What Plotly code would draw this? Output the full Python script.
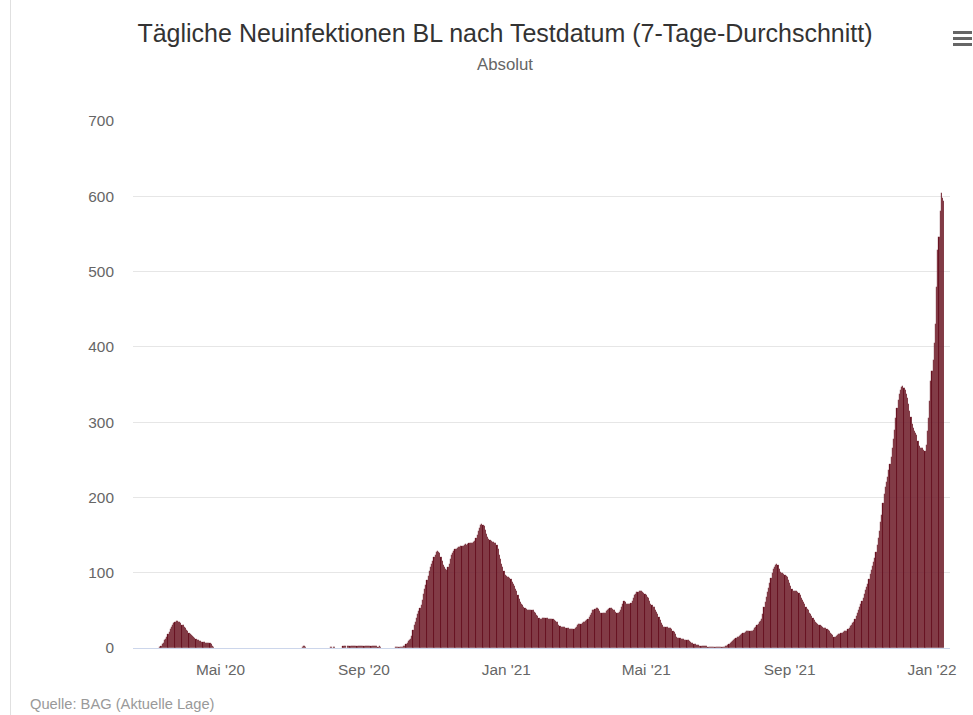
import pandas as pd
import plotly.graph_objects as go

# ---- data: 7-day average of daily new infections, Basel-Landschaft ----
feb20 = [0, 0, 0, 0, 0, 0]  # from 24 Feb 2020
mar20 = [0, 0, 0, 0, 0, 0, 0, 0.3, 0.6, 1, 3, 5, 7, 10, 12, 15, 18, 21, 25, 28,
         31, 33, 35, 36, 36, 35, 34, 33, 31, 30, 28]
apr20 = [26, 24, 22, 20, 19, 17, 16, 14, 13, 12, 11, 10, 9, 9, 8, 8, 7.5, 7, 7, 6.5,
         6, 6, 5, 2, 1, 0, 0, 0, 0, 0]
may20 = [0] * 31
jun20 = [0] * 30
jul20 = [0, 0, 0, 0, 0, 0, 0, 0, 0, 1.5, 2, 2, 1.5, 0, 0, 0, 0, 0, 0, 0,
         0, 0, 0, 0, 0, 0, 0, 0, 0, 0, 0]
aug20 = [0, 0, 1.5, 1.5, 0, 1.5, 1.5, 0, 0, 0, 0, 0, 0, 2, 2.5, 2, 0, 2, 2.5, 3,
         2.5, 2, 2.5, 3, 2.5, 2, 2, 2.5, 3, 2.5, 2]
sep20 = [2.5, 3, 2.5, 2, 2, 2.5, 2, 2.5, 2, 2, 2.5, 2, 1.5, 2, 1.5, 0, 0, 0, 0, 0,
         0, 0, 0, 0, 0, 0, 0, 1.5, 1.5, 1]
oct20 = [1, 1.5, 1.5, 1, 2, 3, 5, 7, 9, 11, 12, 16, 24, 30, 35, 40, 45, 49, 53, 57,
         64, 72, 78, 84, 90, 96, 102, 107, 111, 116, 121]
nov20 = [124, 127, 129, 128, 126, 121, 115, 110, 107, 105, 104, 107, 112, 118, 123,
         126, 129, 131, 132, 133, 134, 134, 135, 135, 136, 137, 138, 137, 138, 139]
dec20 = [139, 140, 140, 141, 142, 146, 150, 155, 160, 164, 165, 164, 162, 157, 152,
         148, 145, 143, 142, 141, 141, 140, 139, 137, 131, 124, 118, 112, 107, 102, 97]
jan21 = [95, 94, 94, 93, 91, 88, 85, 82, 79, 76, 71, 65, 61, 59, 57, 55, 53, 52, 51, 50,
         50, 51, 51, 50, 48, 46, 44, 42, 40, 39, 39]
feb21 = [40, 40, 40, 40, 40, 39, 39, 39, 38, 38, 37, 36, 35, 34, 31, 29, 28, 28, 28, 28,
         27, 26, 26, 25, 25, 25, 25, 25]
mar21 = [26, 28, 30, 32, 32, 32, 33, 34, 35, 36, 37, 39, 41, 44, 47, 50, 51, 52, 53, 53,
         52, 49, 46, 46, 46, 46, 47, 49, 51, 52, 53]
apr21 = [53, 52, 51, 50, 48, 47, 46, 48, 51, 54, 58, 62, 61, 59, 58, 58, 59, 60, 63, 66,
         70, 72, 74, 75, 76, 76, 76, 75, 73, 72]
may21 = [70, 68, 66, 62, 59, 57, 55, 54, 51, 48, 45, 41, 37, 33, 30, 28, 28, 28, 28, 27,
         27, 26, 25, 23, 21, 18, 15, 13, 13, 13, 12]
jun21 = [12, 12, 11, 11, 10, 10, 9, 8, 7, 6, 5.5, 5, 4.5, 4, 3.5, 3, 2.5, 2, 2, 2,
         2, 2, 1.8, 1.8, 1.8, 1.8, 1.8, 1.5, 1.2, 1]
jul21 = [1, 1, 1, 1, 1, 1.2, 1.5, 2, 3, 4, 5, 6.5, 7.5, 9, 10.5, 12, 13, 14, 15, 16,
         17.5, 19, 20, 20.5, 21, 22, 22.5, 23, 23, 23, 23]
aug21 = [24, 26, 28, 30, 32, 34, 36, 39, 45, 54, 61, 68, 74, 80, 86, 93, 100, 105, 108, 110,
         111, 110, 105, 101, 99, 99, 98, 97, 96, 94, 90]
sep21 = [86, 82, 78, 76, 76, 76, 76, 75, 73, 70, 67, 64, 61, 58, 55, 52, 50, 47, 45, 43,
         40, 37, 35, 33, 32, 31, 30, 29, 28, 27]
oct21 = [27, 26, 25, 24, 22, 20, 19, 17, 15, 15, 16, 17, 18, 19, 20, 20, 21, 22, 22, 23,
         25, 27, 29, 31, 33, 35, 38, 42, 46, 50, 54]
nov21 = [58, 62, 66, 72, 77, 81, 85, 91, 98, 104, 109, 114, 120, 128, 137, 146, 156, 167,
         177, 192, 205, 214, 221, 227, 236, 245, 254, 265, 277, 290]
dec21 = [305, 319, 330, 338, 343, 347, 348, 346, 343, 338, 332, 324, 315, 307, 298, 292,
         288, 285, 283, 275, 268, 266, 266, 265, 263, 262, 270, 288, 305, 328, 355]
jan22 = [368, 382, 405, 430, 480, 528, 546, 580, 604, 598, 594]

month_series = [
    ("2020-02-24", feb20), ("2020-03-01", mar20), ("2020-04-01", apr20),
    ("2020-05-01", may20), ("2020-06-01", jun20), ("2020-07-01", jul20),
    ("2020-08-01", aug20), ("2020-09-01", sep20), ("2020-10-01", oct20),
    ("2020-11-01", nov20), ("2020-12-01", dec20), ("2021-01-01", jan21),
    ("2021-02-01", feb21), ("2021-03-01", mar21), ("2021-04-01", apr21),
    ("2021-05-01", may21), ("2021-06-01", jun21), ("2021-07-01", jul21),
    ("2021-08-01", aug21), ("2021-09-01", sep21), ("2021-10-01", oct21),
    ("2021-11-01", nov21), ("2021-12-01", dec21), ("2022-01-01", jan22),
]

tick_dates = ["2020-05-01", "2020-09-01", "2021-01-01", "2021-05-01", "2021-09-01", "2022-01-01"]
tick_text = ["Mai '20", "Sep '20", "Jan '21", "Mai '21", "Sep '21", "Jan '22"]
y_ticks = [0, 100, 200, 300, 400, 500, 600, 700]

title_text = "Tägliche Neuinfektionen BL nach Testdatum (7-Tage-Durchschnitt)"
subtitle_text = "Absolut"
source_text = "Quelle: BAG (Aktuelle Lage)"

dates, values = [], []
for start, vals in month_series:
    dates += list(pd.date_range(start, periods=len(vals), freq="D"))
    values += vals

# ---- layout helpers (pixel -> paper) ----
W, H = 973, 715
L, R, T, B = 133, 950, 121, 648
def px(x):
    return (x - L) / (R - L)
def py(y):
    return (B - y) / (B - T)

FONT = "Liberation Sans, Arial, Helvetica, sans-serif"

fig = go.Figure(go.Bar(
    x=dates, y=values,
    marker=dict(color="#66101f", line=dict(color="rgba(255,255,255,0.18)", width=0.3)),
    hovertemplate="%{x|%d.%m.%Y}: %{y}<extra></extra>",
))

fig.update_layout(
    width=W, height=H,
    margin=dict(l=L, r=W - R, t=T, b=H - B, pad=0),
    paper_bgcolor="white", plot_bgcolor="white",
    font=dict(family=FONT, color="#666666"),
    bargap=0,
    showlegend=False,
    title=dict(text=title_text, x=505 / W, xref="container", xanchor="center",
               y=1 - 33 / H, yref="container", yanchor="middle",
               font=dict(size=25, color="#333333", family=FONT)),
    xaxis=dict(
        type="date",
        range=["2020-02-16", "2022-01-16 10:00"],
        tickvals=tick_dates, ticktext=tick_text,
        tickfont=dict(size=15.4, color="#666666"),
        showgrid=False, zeroline=False,
        showline=True, linecolor="#ccd6eb", linewidth=1,
        ticks="", ticklabelstandoff=8,
        fixedrange=True,
    ),
    yaxis=dict(
        range=[0, 700], tickvals=y_ticks,
        tickfont=dict(size=15.4, color="#666666"),
        showgrid=True, gridcolor="#e6e6e6", gridwidth=1,
        zeroline=False, showline=False,
        ticks="", ticklabelstandoff=18,
        fixedrange=True,
    ),
    annotations=[
        dict(text=subtitle_text, x=px(505), y=py(64), xref="paper", yref="paper",
             xanchor="center", yanchor="middle", showarrow=False,
             font=dict(size=16.8, color="#666666", family=FONT)),
        dict(text=source_text, x=px(28), y=py(704), xref="paper", yref="paper",
             xanchor="left", yanchor="middle", showarrow=False,
             font=dict(size=14.7, color="#999999", family=FONT)),
    ],
    shapes=[
        dict(type="line", xref="paper", yref="paper", x0=px(10.5), x1=px(10.5),
             y0=py(0), y1=py(715), line=dict(color="#e0e0e0", width=1)),
    ] + [
        dict(type="line", xref="paper", yref="paper", x0=px(953), x1=px(972),
             y0=py(yy), y1=py(yy), line=dict(color="#666666", width=3))
        for yy in (32.5, 38.5, 44.5)
    ],
)

fig.write_html("out.html", config={"displayModeBar": False},
               post_script="document.body.style.margin='0';document.body.style.overflow='hidden';")
